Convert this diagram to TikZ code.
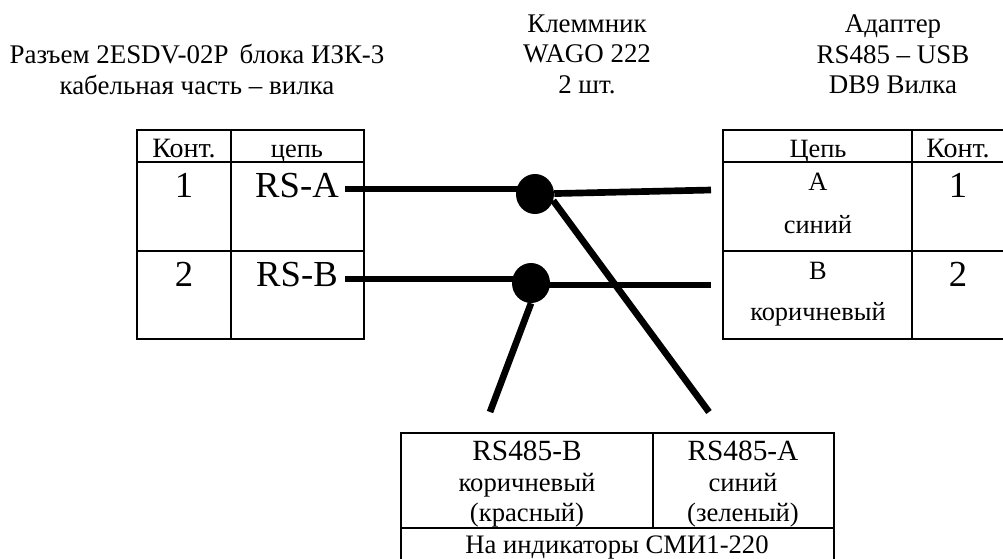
\documentclass[tikz,border=0pt]{standalone}
\usepackage{fontspec}
\setmainfont{Liberation Serif}
\usetikzlibrary{shapes.geometric, positioning}

\begin{document}
\begin{tikzpicture}[
    x=0.75pt, y=-0.75pt,
    cell/.style={rectangle, draw=black, line width=1.3pt, inner sep=0pt, outer sep=0pt},
    head/.style={anchor=north, align=center, inner sep=0pt, font=\fontsize{20.2}{22.9}\selectfont},
    txt/.style={anchor=base, inner sep=0pt, font=\fontsize{19.8}{22}\selectfont},
    cont/.style={anchor=base, inner sep=0pt, font=\fontsize{21}{22}\selectfont},
    big/.style={anchor=base, inner sep=0pt, font=\fontsize{27.5}{30}\selectfont},
    low/.style={anchor=north, align=center, inner sep=0pt, font=\fontsize{20}{22.9}\selectfont},
    joint/.style={ellipse, fill=black, inner sep=0pt, minimum width=28.5pt, minimum height=30pt},
    wire/.style={line width=5pt}
]
\useasboundingbox (0,0) rectangle (1003,558);

% Headers
\node (hdr_plug) [head] at (197,44) {Разъем 2ESDV-02P\, блока ИЗК-3\\кабельная часть -- вилка};
\node (hdr_wago) [head] at (587,14.5) {Клеммник\\WAGO 222\\2 шт.};
\node (hdr_adapter) [head] at (893,14.5) {Адаптер\\RS485 -- USB\\DB9 Вилка};

% Left table
\node (l_h1) [cell, anchor=north west, minimum width=70.5pt, minimum height=24pt] at (137,130) {};
\node (l_h2) [cell, right=0pt of l_h1, minimum width=99.75pt, minimum height=24pt] {};
\node (l_a1) [cell, below=0pt of l_h1, minimum width=70.5pt, minimum height=66.75pt] {};
\node (l_a2) [cell, below=0pt of l_h2, minimum width=99.75pt, minimum height=66.75pt] {};
\node (l_b1) [cell, below=0pt of l_a1, minimum width=70.5pt, minimum height=66pt] {};
\node (l_b2) [cell, below=0pt of l_a2, minimum width=99.75pt, minimum height=66pt] {};

\node (l_cont) [cont] at (184,157) {Конт.};
\node (l_net) [txt] at (297,157) {цепь};
\node (l_pin1) [big] at (184,197) {1};
\node (l_rsa) [big] at (297,197) {RS-A};
\node (l_pin2) [big] at (184,286) {2};
\node (l_rsb) [big] at (297,286) {RS-B};

% Right table
\node (r_h1) [cell, anchor=north west, minimum width=141.75pt, minimum height=24pt] at (723,130) {};
\node (r_h2) [cell, right=0pt of r_h1, minimum width=72pt, minimum height=24pt] {};
\node (r_a1) [cell, below=0pt of r_h1, minimum width=141.75pt, minimum height=66.75pt] {};
\node (r_a2) [cell, below=0pt of r_h2, minimum width=72pt, minimum height=66.75pt] {};
\node (r_b1) [cell, below=0pt of r_a1, minimum width=141.75pt, minimum height=66pt] {};
\node (r_b2) [cell, below=0pt of r_a2, minimum width=72pt, minimum height=66pt] {};

\node (r_net) [txt] at (818,157) {Цепь};
\node (r_cont) [cont] at (958,157) {Конт.};
\node (r_a) [txt] at (818,190) {A};
\node (r_blue) [txt] at (818,233) {синий};
\node (r_pin1) [big] at (958,197) {1};
\node (r_b) [txt] at (818,279) {B};
\node (r_brown) [txt] at (818,320) {коричневый};
\node (r_pin2) [big] at (958,286) {2};

% Bottom table
\node (b_b) [cell, anchor=north west, minimum width=189pt, minimum height=71.25pt] at (401,433) {};
\node (b_a) [cell, right=0pt of b_b, minimum width=135.75pt, minimum height=71.25pt] {};
\node (b_ind) [cell, anchor=north west, minimum width=324.75pt, minimum height=27.75pt] at (b_b.south west) {};

\node (b_btxt) [low] at (527,441) {{\fontsize{22}{22.9}\selectfont RS485-B}\\коричневый\\(красный)};
\node (b_atxt) [low] at (743,441) {{\fontsize{22}{22.9}\selectfont RS485-A}\\синий\\(зеленый)};
\node (b_indtxt) [anchor=base, inner sep=0pt, font=\fontsize{20}{24}\selectfont] at (617,553) {На индикаторы СМИ1-220};

% Joints
\node (dot_a) [joint] at (535,194) {};
\node (dot_b) [joint] at (531,283) {};

% Free wire ends
\coordinate (a_left) at (345,189);
\coordinate (a_right) at (711,190);
\coordinate (a_down) at (709,412);
\coordinate (b_left) at (345,279);
\coordinate (b_right) at (711,285);
\coordinate (b_down) at (490,412);

% Wires
\draw [wire] (a_left) -- (a_left -| dot_a);
\draw [wire] (dot_a) -- (a_right);
\draw [wire] (dot_a.340) -- (a_down);
\draw [wire] (b_left) -- (b_left -| dot_b);
\draw [wire] (b_right -| dot_b) -- (b_right);
\draw [wire] (dot_b.south) -- (b_down);

\end{tikzpicture}
\end{document}
